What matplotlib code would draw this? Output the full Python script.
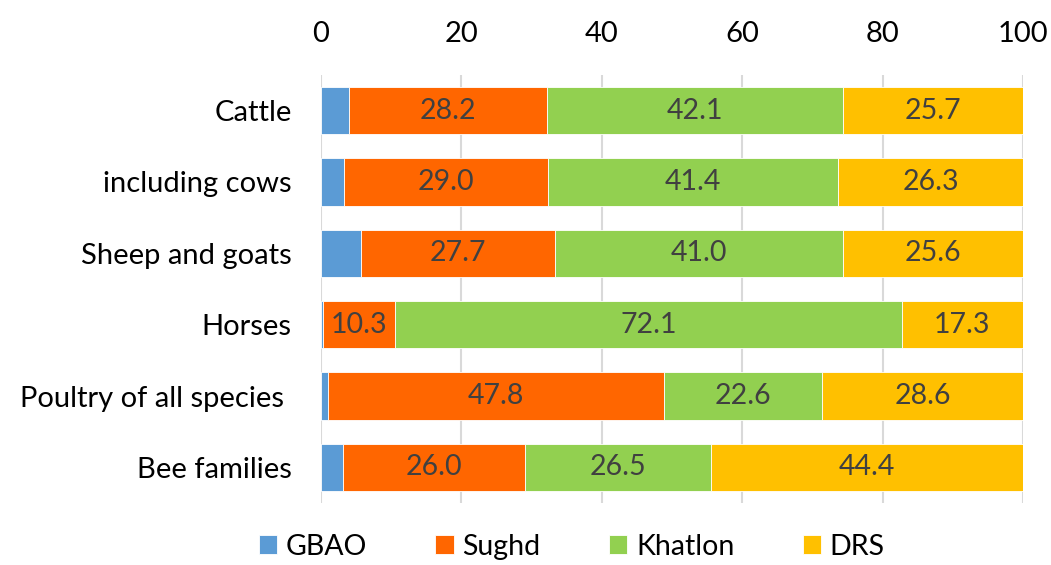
import matplotlib
matplotlib.use("Agg")
import matplotlib.pyplot as plt
import numpy as np

categories = ["Cattle", "including cows", "Sheep and goats", "Horses",
              "Poultry of all species ", "Bee families"]
regions = ["GBAO", "Sughd", "Khatlon", "DRS"]
gbao = [4.0, 3.3, 5.7, 0.3, 1.0, 3.1]
sughd = [28.2, 29.0, 27.7, 10.3, 47.8, 26.0]
khatlon = [42.1, 41.4, 41.0, 72.1, 22.6, 26.5]
drs = [25.7, 26.3, 25.6, 17.3, 28.6, 44.4]
x_ticks = [0, 20, 40, 60, 80, 100]

colors = ["#5B9BD5", "#FF6600", "#92D050", "#FFC000"]
labelled = [False, True, True, True]

plt.rcParams["font.family"] = ["Lato", "DejaVu Sans"]

fig = plt.figure(figsize=(10.51, 5.65), dpi=100)
ax = fig.add_axes([0.3054, 0.1097, 0.6680, 0.7576])

y = np.arange(len(categories))
left = np.zeros(len(categories))
for name, vals, col, lab in zip(regions, [gbao, sughd, khatlon, drs], colors, labelled):
    vals = np.array(vals)
    ax.barh(y, vals, left=left, height=0.66, color=col, label=name,
            edgecolor="white", linewidth=0.6, zorder=3)
    if lab:
        for yi, l, v in zip(y, left, vals):
            ax.text(l + v / 2, yi, f"{v:.1f}", ha="center", va="center",
                    fontsize=20.5, color="#404040", zorder=4)
    left += vals

ax.set_xlim(0, 100)
ax.set_ylim(len(categories) - 0.5, -0.5)
ax.set_yticks(y)
ax.set_yticklabels(categories, fontsize=21)
ax.set_xticks(x_ticks)
ax.set_xticklabels([str(t) for t in x_ticks], fontsize=21)
ax.xaxis.tick_top()
ax.tick_params(axis="y", length=0, pad=21)
ax.tick_params(axis="x", length=0, pad=20)
ax.grid(axis="x", color="#D9D9D9", linewidth=1.5, zorder=0)
for s in ax.spines.values():
    s.set_visible(False)

handles, labels_ = ax.get_legend_handles_labels()
fig.legend(handles, labels_, loc="center", bbox_to_anchor=(0.544, 0.032),
           ncol=4, frameon=False, fontsize=20.5, handlelength=0.65,
           handleheight=0.65, columnspacing=2.4, handletextpad=0.3,
           borderpad=0, borderaxespad=0)

fig.savefig("out.png", dpi=100)
